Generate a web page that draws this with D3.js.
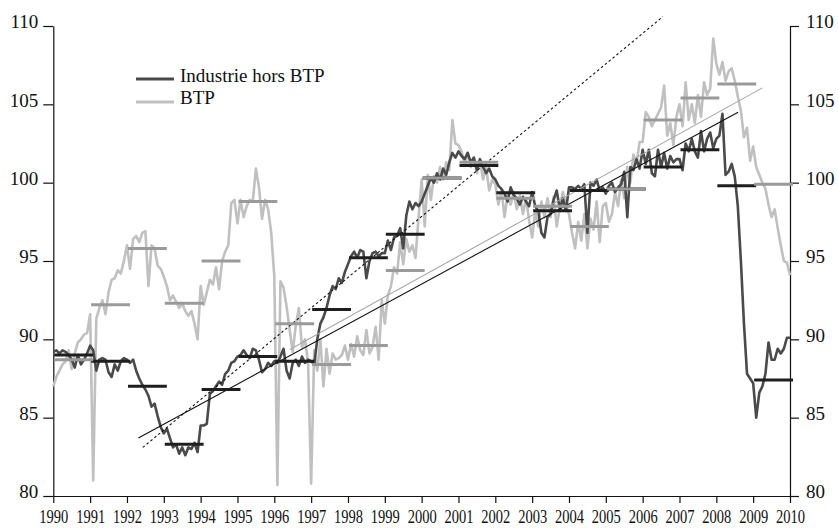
<!DOCTYPE html>
<html>
<head>
<meta charset="utf-8">
<script src="https://cdn.jsdelivr.net/npm/d3@7"></script>
<style>
  html, body { margin: 0; padding: 0; background: #fff; }
  svg { display: block; }
  .axis text { font-family: "Liberation Serif", "Times New Roman", serif; font-size: 19px; fill: #111; }
  .axis path, .axis line { stroke: #111; stroke-width: 1.2px; }
</style>
</head>
<body>
<svg id="chart" width="838" height="528"></svg>
<script>
// Monthly indices, January 1990 to January 2010 (12 values per year, last line = Jan 2010)
const industrie = [
  89.2, 89.3, 89.1, 89.3, 89.2, 89.0, 88.7, 88.2, 89.0, 88.4, 88.7, 89.1,
  89.6, 89.3, 88.0, 88.7, 88.8, 88.7, 87.9, 87.6, 88.4, 88.0, 88.6, 88.8,
  88.7, 88.5, 88.7, 88.0, 87.5, 87.1, 86.8, 86.4, 85.7, 85.9, 85.1, 84.4,
  84.0, 84.3, 83.7, 83.1, 83.3, 82.7, 83.1, 82.6, 83.1, 83.0, 83.4, 82.8,
  84.5, 84.5, 84.6, 86.5, 86.7, 87.0, 87.3, 87.1, 87.8, 88.0, 88.5, 88.6,
  88.9, 89.0, 89.3, 89.0, 88.8, 89.4, 89.3, 88.7, 87.9, 88.1, 88.5, 88.3,
  88.6, 88.5, 88.9, 89.4, 88.0, 87.5, 88.5, 88.7, 88.3, 88.9, 88.5, 88.7,
  88.6, 88.4, 90.0, 91.0, 91.4, 92.0, 92.8, 93.4, 93.2, 93.9, 93.6, 94.3,
  94.8, 95.3, 95.6, 95.2, 95.7, 95.6, 93.9, 95.0, 95.5, 95.6, 95.3, 95.5,
  95.5, 96.3, 95.7, 96.5, 96.6, 97.1, 95.8, 97.9, 98.8, 98.3, 98.7, 98.5,
  98.8, 99.3, 99.8, 100.3, 100.0, 100.6, 100.2, 100.9, 100.5, 101.3, 101.9, 101.6,
  102.0, 101.7, 101.5, 101.9, 101.3, 101.6, 100.8, 101.5, 101.0, 100.6, 100.9, 100.4,
  100.2, 99.8, 99.6, 99.3, 98.8, 99.7, 99.2, 99.0, 98.6, 99.1, 98.8, 98.5,
  99.4, 98.5, 98.2, 96.8, 96.5, 97.8, 98.0, 98.9, 99.5, 98.3, 99.0, 98.2,
  99.7, 99.7, 99.6, 99.8, 99.6, 99.9, 96.8, 100.0, 99.8, 100.2, 99.5, 99.7,
  99.3, 99.8, 100.0, 99.4, 99.7, 99.9, 100.7, 97.8, 101.0, 100.8, 101.5, 100.9,
  102.1, 101.2, 102.1, 100.6, 100.4, 102.1, 101.0, 101.9, 100.9, 101.7, 101.3, 101.5,
  101.5, 100.8, 102.5, 102.0, 102.8, 102.0, 101.6, 103.3, 102.0, 102.8, 103.2, 102.2,
  102.8, 103.0, 104.4, 100.5, 100.7, 101.2, 100.4, 98.5, 95.0, 91.0, 87.8, 87.5,
  87.2, 85.0, 86.6, 87.0, 87.8, 89.8, 88.7, 88.7, 89.4, 89.1, 89.4, 90.1,
  90.1
];

const btp = [
  87.0, 87.6, 88.0, 88.4, 88.6, 89.3, 88.1, 89.1, 89.8, 90.0, 90.3, 90.4,
  91.6, 81.0, 91.3, 92.0, 92.5, 91.6, 93.0, 93.8, 93.9, 94.4, 94.2, 95.0,
  96.0, 94.5, 96.4, 96.6, 96.2, 96.8, 96.9, 93.4, 96.0, 95.8, 94.7, 94.5,
  94.0, 93.4, 92.5, 92.8, 92.4, 92.0, 92.3, 91.8, 91.5, 91.8, 91.0, 90.0,
  93.4, 92.2, 93.0, 93.8, 93.5, 94.6, 93.2, 95.0, 95.6, 96.0, 98.7, 98.9,
  97.4, 98.9, 97.8, 98.5, 98.9, 98.8, 100.9, 99.7, 97.7, 98.9, 98.3, 96.8,
  94.0, 80.7, 93.7, 93.3, 92.1, 90.6, 89.2, 90.9, 92.0, 89.5, 90.0, 88.5,
  80.8, 89.3, 88.0, 90.0, 87.0, 89.4, 87.8, 89.1, 88.7, 88.8, 89.0, 89.6,
  88.7, 89.7, 88.9, 90.2, 89.3, 89.0, 90.6, 89.1, 89.5, 90.8, 88.7, 92.5,
  91.0, 92.8, 93.4, 94.6, 94.2, 96.2, 94.8, 96.4, 95.6, 96.0, 95.2, 97.8,
  100.2, 97.2, 100.5, 98.9, 100.4, 100.0, 101.0, 100.2, 101.3, 100.8, 104.0, 102.5,
  102.4, 102.0, 101.2, 101.9, 101.0, 101.6, 100.6, 101.4, 100.2, 101.0, 99.5, 100.2,
  99.9, 98.6, 99.6, 97.8, 99.2, 98.6, 99.4, 98.3, 99.2, 98.0, 99.0, 97.6,
  96.5, 98.2, 97.2, 98.8, 97.8, 99.0, 97.8, 99.1, 97.2, 98.4, 99.4, 98.6,
  98.0, 96.8, 95.8, 97.5, 96.3, 98.0, 95.8, 97.7, 97.0, 98.8, 96.2, 98.5,
  98.7, 97.5, 98.0, 99.4, 98.5, 100.2, 99.0, 101.0, 100.0, 101.8, 101.2, 102.6,
  102.6, 104.5, 104.2, 103.6, 104.0, 104.4, 104.8, 106.2, 103.0, 103.8, 102.4, 104.2,
  105.0, 103.6, 106.4, 104.0, 105.0, 103.8, 105.6, 104.2, 106.4, 105.6, 106.0, 109.2,
  107.6, 106.9, 107.7, 106.5, 107.1, 107.3, 106.5, 105.5, 104.6, 102.9, 103.5, 101.4,
  102.3, 101.0, 100.5, 100.0, 99.6, 98.6, 97.8, 98.3, 97.1, 96.0, 95.0, 94.9,
  94.1
];

// Annual averages, 1990 to 2009
const years = d3.range(1990, 2010);
const industrieAnnual = [89.0, 88.6, 87.0, 83.3, 86.8, 88.9, 88.6, 91.9, 95.2, 96.7,
                         100.3, 101.1, 99.35, 98.2, 99.5, 99.6, 101.0, 102.1, 99.8, 87.4];
const btpAnnual = [88.7, 92.2, 95.8, 92.3, 95.0, 98.8, 91.0, 88.4, 89.6, 94.4,
                   100.3, 101.3, 99.0, 98.5, 97.2, 99.6, 104.0, 105.4, 106.3, 99.9];

// Fitted trends: [start year, start value, end year, end value]
const trendIndustrie = [1992.31, 83.7, 2008.59, 104.5];
const trendBtp = [1996.42, 89.35, 2009.25, 106.05];
const trendReprise = [1992.43, 83.1, 2006.55, 110.6];

const yTicks = [80, 85, 90, 95, 100, 105, 110];
const xTicks = d3.range(1990, 2011);
const legendLabels = ["Industrie hors BTP", "BTP"];

const colDark = "#4a4a4a", colLight = "#c0c0c0";
const colDarkMean = "#1e1e1e", colLightMean = "#9a9a9a";

const svg = d3.select("#chart");
const plotLeft = 53.3, plotRight = 790, plotTop = 26, plotBottom = 496;

const x = d3.scaleLinear().domain([1990, 2010]).range([plotLeft, plotRight]);
const y = d3.scaleLinear().domain([80, 110]).range([plotBottom, plotTop]);

const monthT = i => 1990 + i / 12;

// Axes
const gL = svg.append("g").attr("class", "axis").attr("transform", `translate(${plotLeft},0)`)
  .call(d3.axisLeft(y).tickValues(yTicks).tickSize(10).tickSizeOuter(0).tickPadding(5));
gL.selectAll("text").attr("dy", "0.1em");

const gR = svg.append("g").attr("class", "axis").attr("transform", `translate(${plotRight},0)`)
  .call(d3.axisRight(y).tickValues(yTicks).tickSize(9).tickSizeOuter(0).tickPadding(7));
gR.selectAll("text").attr("dy", "0.1em");

const gB = svg.append("g").attr("class", "axis").attr("transform", `translate(0,${plotBottom})`)
  .call(d3.axisBottom(x).tickValues(xTicks).tickFormat(d3.format("d")).tickSize(7).tickSizeOuter(0));
gB.selectAll("text").attr("y", 27).attr("dy", 0)
  .attr("textLength", 29).attr("lengthAdjust", "spacingAndGlyphs");

// Monthly series
const line = d3.line().x((d, i) => x(monthT(i))).y(d => y(d));

svg.append("path").datum(btp)
  .attr("fill", "none").attr("stroke", colLight).attr("stroke-width", 2.6)
  .attr("stroke-linejoin", "round").attr("d", line);

svg.append("path").datum(industrie)
  .attr("fill", "none").attr("stroke", colDark).attr("stroke-width", 2.6)
  .attr("stroke-linejoin", "round").attr("d", line);

// Trend lines
function trend(t, color, dash) {
  svg.append("line")
    .attr("x1", x(t[0])).attr("y1", y(t[1]))
    .attr("x2", x(t[2])).attr("y2", y(t[3]))
    .attr("stroke", color).attr("stroke-width", 1.1)
    .attr("stroke-dasharray", dash || null);
}
trend(trendBtp, "#a8a8a8");
trend(trendIndustrie, "#111");
trend(trendReprise, "#111", "2.5,2.5");

// Annual average segments
function means(vals, color) {
  svg.append("g").selectAll("line").data(vals).join("line")
    .attr("x1", (d, i) => x(years[i]) + 1)
    .attr("x2", (d, i) => x(years[i] + 1) + 3)
    .attr("y1", d => y(d)).attr("y2", d => y(d))
    .attr("stroke", color).attr("stroke-width", 3);
}
means(industrieAnnual, colDarkMean);
means(btpAnnual, colLightMean);

// Legend
const legend = svg.append("g");
const legendRows = [
  { label: legendLabels[0], color: colDark, ly: 79, ty: 82 },
  { label: legendLabels[1], color: colLight, ly: 102, ty: 104 }
];
legendRows.forEach(r => {
  legend.append("line").attr("x1", 136).attr("x2", 174).attr("y1", r.ly).attr("y2", r.ly)
    .attr("stroke", r.color).attr("stroke-width", 3);
  legend.append("text").attr("x", 180).attr("y", r.ty)
    .style("font-family", '"Liberation Serif", "Times New Roman", serif')
    .style("font-size", "19px").style("fill", "#111").text(r.label);
});
</script>
</body>
</html>
